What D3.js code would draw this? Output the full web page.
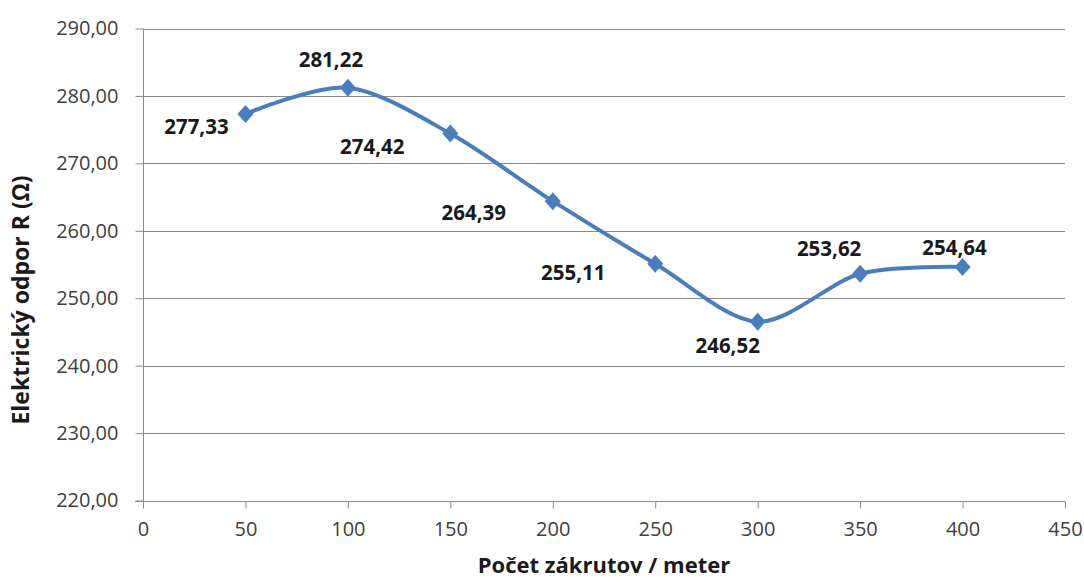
<!DOCTYPE html>
<html>
<head>
<meta charset="utf-8">
<script src="https://cdn.jsdelivr.net/npm/d3@7"></script>
<style>
  html, body { margin: 0; padding: 0; background: #fff; }
  svg { display: block; }
  text { font-family: "Open Sans", "DejaVu Sans", sans-serif; }
</style>
</head>
<body>
<svg id="chart" width="1084" height="581"></svg>
<script>
// ---- data ----
const xValues = [50, 100, 150, 200, 250, 300, 350, 400];
const resistance = [277.33, 281.22, 274.42, 264.39, 255.11, 246.52, 253.62, 254.64];
const xTicks = [0, 50, 100, 150, 200, 250, 300, 350, 400, 450];
const yTicks = [220, 230, 240, 250, 260, 270, 280, 290];
const xTitle = "Počet zákrutov / meter";
const yTitle = "Elektrický odpor R (Ω)";
// label placement relative to each point (dx, dy in px)
const labelOffsets = [[-49, 20], [-17, -21], [-78, 20], [-79, 19], [-82, 16], [-30, 31], [-31, -18], [-8, -12]];

// ---- layout ----
const W = 1084, H = 581;
const plot = { left: 143, right: 1065, top: 28.5, bottom: 500.5 };
const lineColor = "#4A7EBB";
const gridColor = "#8c8c8c";
const textColor = "#404040";

const svg = d3.select("#chart");
const fmt = v => d3.format(".2f")(v).replace(".", ",");

const x = d3.scaleLinear().domain([0, 450]).range([plot.left, plot.right]);
const y = d3.scaleLinear().domain([220, 290]).range([plot.bottom, plot.top]);

// gridlines
svg.append("g")
  .selectAll("line")
  .data(yTicks.filter(d => d !== 220))
  .join("line")
  .attr("x1", plot.left).attr("x2", plot.right)
  .attr("y1", d => Math.round(y(d)) + 0.5).attr("y2", d => Math.round(y(d)) + 0.5)
  .attr("stroke", gridColor).attr("stroke-width", 1);

// y axis
const yAxis = svg.append("g")
  .attr("transform", `translate(${plot.left + 0.5},0)`)
  .call(d3.axisLeft(y).tickValues(yTicks).tickSize(8).tickPadding(17).tickFormat(fmt));
yAxis.select(".domain").attr("stroke", gridColor).attr("d", `M0,${plot.top}V${plot.bottom + 7}`);
yAxis.selectAll(".tick line").attr("stroke", gridColor);
yAxis.selectAll(".tick text").attr("fill", textColor).style("font-size", "20px")
  .style("font-family", "'Open Sans', sans-serif");

// x axis
const xAxis = svg.append("g")
  .attr("transform", `translate(0,${Math.round(plot.bottom) + 0.5})`)
  .call(d3.axisBottom(x).tickValues(xTicks).tickSize(7).tickPadding(13).tickFormat(d3.format("d")));
xAxis.select(".domain").attr("stroke", gridColor).attr("d", `M${plot.left - 8},0H${plot.right}`);
xAxis.selectAll(".tick line").attr("stroke", gridColor);
xAxis.selectAll(".tick text").attr("fill", textColor).style("font-size", "20px")
  .style("font-family", "'Open Sans', sans-serif");

// line
const pts = xValues.map((v, i) => [x(v), y(resistance[i])]);
const line = d3.line().curve(d3.curveCardinal.tension(0.1));
svg.append("path")
  .attr("d", line(pts))
  .attr("fill", "none")
  .attr("stroke", lineColor)
  .attr("stroke-width", 4)
  .attr("stroke-linejoin", "round");

// markers (diamonds)
const hw = 8, hh = 9;
svg.append("g").selectAll("path")
  .data(pts)
  .join("path")
  .attr("d", d => `M${d[0]},${d[1] - hh}L${d[0] + hw},${d[1]}L${d[0]},${d[1] + hh}L${d[0] - hw},${d[1]}Z`)
  .attr("fill", lineColor);

// data labels
svg.append("g").selectAll("text")
  .data(resistance)
  .join("text")
  .attr("x", (d, i) => pts[i][0] + labelOffsets[i][0])
  .attr("y", (d, i) => pts[i][1] + labelOffsets[i][1])
  .attr("text-anchor", "middle")
  .attr("fill", "#1a1a1a")
  .style("font-size", "20.5px")
  .style("font-weight", "bold")
  .text(d => fmt(d));

// axis titles
svg.append("text")
  .attr("x", 604).attr("y", 573)
  .attr("text-anchor", "middle")
  .attr("fill", "#1a1a1a")
  .style("font-size", "22px").style("font-weight", "bold")
  .text(xTitle);

svg.append("text")
  .attr("transform", "translate(29,300) rotate(-90)")
  .attr("text-anchor", "middle")
  .attr("fill", "#1a1a1a")
  .style("font-size", "23px").style("font-weight", "bold")
  .text(yTitle);
</script>
</body>
</html>
